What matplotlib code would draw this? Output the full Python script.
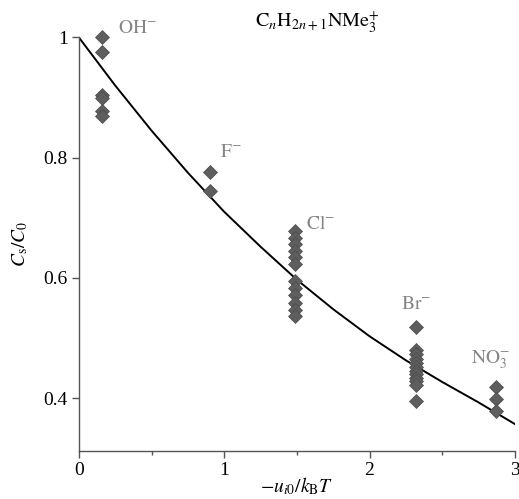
import matplotlib
matplotlib.use('Agg')
import matplotlib.pyplot as plt

plt.rcParams['font.family'] = 'serif'
plt.rcParams['font.serif'] = ['Liberation Serif', 'DejaVu Serif']
plt.rcParams['mathtext.fontset'] = 'stix'

# measured points, one array per anion
ions = [r'$\mathrm{OH}^{-}$', r'$\mathrm{F}^{-}$', r'$\mathrm{Cl}^{-}$', r'$\mathrm{Br}^{-}$', r'$\mathrm{NO}_3^{-}$']
ion_x = [0.16, 0.90, 1.49, 2.32, 2.87]
oh_y = [1.0, 0.975, 0.905, 0.900, 0.878, 0.870]
f_y = [0.777, 0.745]
cl_y = [0.678, 0.667, 0.656, 0.645, 0.634, 0.623, 0.595, 0.583, 0.571, 0.559, 0.547, 0.537]
br_y = [0.518, 0.480, 0.473, 0.466, 0.459, 0.452, 0.446, 0.440, 0.434, 0.428, 0.422, 0.396]
no3_y = [0.418, 0.398, 0.378]
groups = [oh_y, f_y, cl_y, br_y, no3_y]

# model curve
curve_x = [0.0, 0.25, 0.5, 0.75, 1.0, 1.25, 1.5, 1.75, 2.0, 2.25, 2.5, 2.75, 3.0]
curve_y = [1.0, 0.92, 0.845, 0.775, 0.71, 0.652, 0.597, 0.548, 0.503, 0.463, 0.427, 0.393, 0.357]

# label anchors (data coords)
label_pos = [(0.27, 1.0), (0.97, 0.795), (1.56, 0.675), (2.22, 0.542), (2.70, 0.445)]

fig = plt.figure(figsize=(5.19, 4.99), dpi=100)
ax = fig.add_axes([0.152, 0.096, 0.84, 0.829])

ax.plot(curve_x, curve_y, color='black', lw=1.4, zorder=2)
for x, ys in zip(ion_x, groups):
    ax.plot([x] * len(ys), ys, linestyle='none', marker='D', markersize=7,
            markerfacecolor='#5e5e5e', markeredgecolor='#4a4a4a', markeredgewidth=0.5,
            clip_on=False, zorder=3)

for name, (lx, ly) in zip(ions, label_pos):
    ax.text(lx, ly, name, color='#858585', fontsize=14, ha='left', va='bottom')

ax.text(0.548, 1.027, r'$\mathrm{C}_n\mathrm{H}_{2n+1}\mathrm{NMe}_3^{+}$', transform=ax.transAxes,
        ha='center', va='baseline', fontsize=14.5, color='black')

ax.set_xlim(0, 3)
ax.set_ylim(0.312, 1.0)
ax.set_xticks([0, 1, 2, 3])
ax.set_xticks([0.5, 1.5, 2.5], minor=True)
ax.set_yticks([0.4, 0.6, 0.8, 1.0])
ax.set_yticklabels(['0.4', '0.6', '0.8', '1'])

for s in ['top', 'right']:
    ax.spines[s].set_visible(False)
for s in ['left', 'bottom']:
    ax.spines[s].set_color('#555555')
    ax.spines[s].set_linewidth(1.0)

ax.tick_params(axis='both', which='major', length=5, width=1, color='#555555',
               labelsize=14, pad=3)
ax.tick_params(axis='x', which='minor', length=3, width=1, color='#555555')

ax.set_xlabel(r'$-u_{i0}/k_\mathrm{B}T$', fontsize=14, labelpad=-3)
ax.set_ylabel(r'$C_\mathrm{s}/C_0$', fontsize=14, labelpad=10)

fig.savefig('out.png', dpi=100)
